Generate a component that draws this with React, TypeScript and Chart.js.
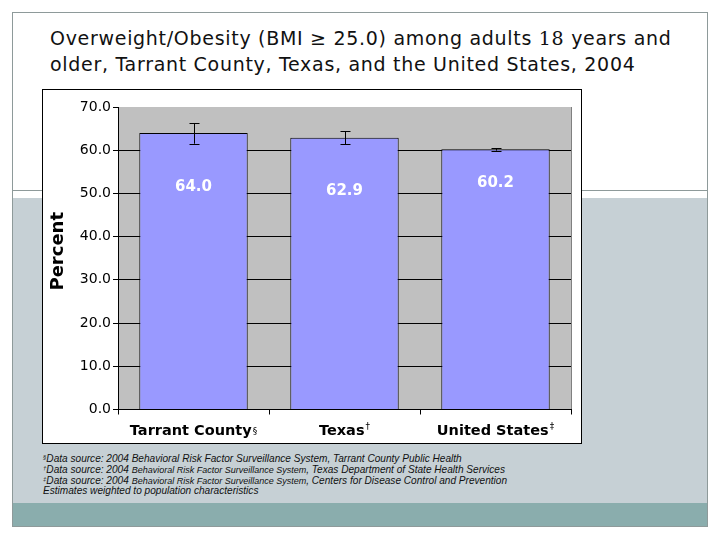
import React, { useEffect, useRef } from "react";
import { Chart, registerables } from "chart.js";

Chart.register(...registerables);

const categories = ["Tarrant County", "Texas", "United States"];
const superscripts = ["§", "†", "‡"];
const values = [64.0, 62.9, 60.2];
const errorLow = [61.5, 61.4, 59.9];
const errorHigh = [66.3, 64.4, 60.5];
const labelAt = [51.4, 50.5, 52.5];
const yMin = 0;
const yMax = 70;
const yStep = 10;

const footnoteMarks = ["§", "†", "‡", ""];
const footnotes = [
  "Data source: 2004 Behavioral Risk Factor Surveillance System, Tarrant County Public Health",
  "Data source: 2004 Behavioral Risk Factor Surveillance System, Texas Department of State Health Services",
  "Data source: 2004 Behavioral Risk Factor Surveillance System, Centers for Disease Control and Prevention",
  "Estimates weighted to population characteristics",
];
const smallPart = "Behavioral Risk Factor Surveillance System";
const smallPartLines = [false, true, true, false];

const plotBgPlugin = {
  id: "plotBg",
  beforeDraw(chart: any) {
    const { ctx, chartArea } = chart;
    ctx.save();
    ctx.fillStyle = "#C0C0C0";
    ctx.fillRect(chartArea.left, chartArea.top, chartArea.right - chartArea.left, chartArea.bottom - chartArea.top);
    ctx.strokeStyle = "#808080";
    ctx.lineWidth = 1;
    ctx.beginPath();
    ctx.moveTo(Math.round(chartArea.right) + 0.5, chartArea.top);
    ctx.lineTo(Math.round(chartArea.right) + 0.5, chartArea.bottom);
    ctx.stroke();
    ctx.restore();
  },
};

const overlayPlugin = {
  id: "overlay",
  afterDatasetsDraw(chart: any) {
    const { ctx, chartArea } = chart;
    const xs = chart.scales.x;
    const ys = chart.scales.y;
    ctx.save();
    // error bars
    ctx.strokeStyle = "#000";
    ctx.lineWidth = 1;
    for (let i = 0; i < values.length; i++) {
      const x = Math.round(xs.getPixelForValue(i)) + 0.5;
      const yl = ys.getPixelForValue(errorLow[i]);
      const yh = ys.getPixelForValue(errorHigh[i]);
      ctx.beginPath();
      ctx.moveTo(x, yl);
      ctx.lineTo(x, yh);
      ctx.moveTo(x - 5, Math.round(yl) + 0.5);
      ctx.lineTo(x + 5, Math.round(yl) + 0.5);
      ctx.moveTo(x - 5, Math.round(yh) + 0.5);
      ctx.lineTo(x + 5, Math.round(yh) + 0.5);
      ctx.stroke();
    }
    // value labels
    ctx.fillStyle = "#FFFFFF";
    ctx.font = "bold 15px 'DejaVu Sans'";
    ctx.textAlign = "center";
    ctx.textBaseline = "middle";
    for (let i = 0; i < values.length; i++) {
      ctx.fillText(values[i].toFixed(1), xs.getPixelForValue(i), ys.getPixelForValue(labelAt[i]));
    }
    // x category labels with superscripts
    ctx.fillStyle = "#000";
    ctx.textBaseline = "alphabetic";
    ctx.textAlign = "left";
    for (let i = 0; i < categories.length; i++) {
      ctx.font = "bold 14.5px 'DejaVu Sans'";
      const w1 = ctx.measureText(categories[i]).width;
      ctx.font = "9px 'DejaVu Sans'";
      const w2 = ctx.measureText(superscripts[i]).width + 1;
      const cx = xs.getPixelForValue(i);
      const x0 = cx - (w1 + w2) / 2;
      const base = chartArea.bottom + 25;
      ctx.font = "bold 14.5px 'DejaVu Sans'";
      ctx.fillText(categories[i], x0, base);
      ctx.font = "9px 'DejaVu Sans'";
      ctx.fillText(superscripts[i], x0 + w1 + 1, base - (i === 0 ? 1 : 6));
    }
    // y axis title
    ctx.font = "bold 18px 'DejaVu Sans'";
    ctx.textAlign = "center";
    ctx.textBaseline = "middle";
    ctx.translate(15.5, (chartArea.top + chartArea.bottom) / 2 - 7);
    ctx.rotate(-Math.PI / 2);
    ctx.fillText("Percent", 0, 0);
    ctx.restore();
  },
};

function BarChart() {
  const ref = useRef<HTMLCanvasElement | null>(null);
  useEffect(() => {
    if (!ref.current) return;
    const chart = new Chart(ref.current, {
      type: "bar",
      data: {
        labels: categories,
        datasets: [
          {
            data: values,
            backgroundColor: "#9999FF",
            borderColor: "#000000",
            borderWidth: 1,
            barPercentage: 0.718,
            categoryPercentage: 1,
          },
        ],
      },
      options: {
        responsive: false,
        animation: false,
        layout: { padding: { left: 0, right: 10, top: 17, bottom: 0 } },
        plugins: { legend: { display: false }, tooltip: { enabled: false }, title: { display: false } },
        scales: {
          x: {
            grid: { display: true, drawOnChartArea: false, offset: true, tickLength: 5, color: "#000", tickColor: "#000" },
            border: { display: true, color: "#000", width: 1 },
            ticks: { display: false },
            afterFit: (s: any) => {
              s.height = 33.5;
            },
          },
          y: {
            min: yMin,
            max: yMax,
            grid: {
              color: (c: any) => (c.tick && c.tick.value === yMax ? "rgba(0,0,0,0)" : "#000"),
              tickColor: "#000",
              tickLength: 5,
              lineWidth: 1,
            },
            border: { display: true, color: "#000", width: 1 },
            ticks: {
              stepSize: yStep,
              padding: 2,
              color: "#000",
              font: { family: "'DejaVu Sans'", size: 14 },
              callback: (v: any) => Number(v).toFixed(1),
            },
            afterFit: (s: any) => {
              s.width = 75;
            },
          },
        },
      },
      plugins: [plotBgPlugin, overlayPlugin],
    });
    return () => chart.destroy();
  }, []);
  return <canvas ref={ref} width={538} height={353} style={{ width: 538, height: 353, display: "block" }} />;
}

function Footnote({ i }: { i: number }) {
  const text = footnotes[i];
  let body: React.ReactNode = text;
  if (smallPartLines[i]) {
    const k = text.indexOf(smallPart);
    body = (
      <>
        {text.slice(0, k)}
        <span style={{ fontSize: 9 }}>{smallPart}</span>
        {text.slice(k + smallPart.length)}
      </>
    );
  }
  return (
    <div style={{ height: 10.8, lineHeight: "10.8px", overflow: "visible" }}>
      {footnoteMarks[i] && <span style={{ fontSize: 6, position: "relative", top: -3 }}>{footnoteMarks[i]}</span>}
      {body}
    </div>
  );
}

export default function App() {
  useEffect(() => {
    document.body.style.margin = "0";
  }, []);
  return (
    <div style={{ position: "absolute", left: 0, top: 0, width: 720, height: 540, background: "#fff", overflow: "hidden", fontFamily: "'DejaVu Sans'" }}>
      <div style={{ position: "absolute", left: 12, top: 198, width: 696, height: 305, background: "#C6D0D5" }} />
      <div style={{ position: "absolute", left: 12, top: 503, width: 696, height: 24, background: "#8AADAD" }} />
      <div style={{ position: "absolute", left: 12, top: 190, width: 696, height: 1, background: "#8E9A9A" }} />
      <div style={{ position: "absolute", left: 12, top: 12, width: 696, height: 515, border: "1px solid #8E9A9A", boxSizing: "border-box" }} />
      <div style={{ position: "absolute", left: 50, top: 25, fontSize: 19, letterSpacing: "0.7px", lineHeight: "26px", color: "#111", whiteSpace: "nowrap" }}>
        <div>
          Overweight/Obesity (BMI ≥ 25.0) among adults <span style={{ fontFamily: "'DejaVu Serif'" }}>18</span> years and
        </div>
        <div>older, Tarrant County, Texas, and the United States, 2004</div>
      </div>
      <div style={{ position: "absolute", left: 42, top: 89, width: 540, height: 355, border: "1px solid #000", boxSizing: "border-box", background: "#fff" }}>
        <BarChart />
      </div>
      <div style={{ position: "absolute", left: 43, top: 454, fontFamily: "'Liberation Sans'", fontStyle: "italic", fontSize: 10.1, color: "#111", whiteSpace: "nowrap" }}>
        {footnotes.map((_, i) => (
          <Footnote key={i} i={i} />
        ))}
      </div>
    </div>
  );
}
